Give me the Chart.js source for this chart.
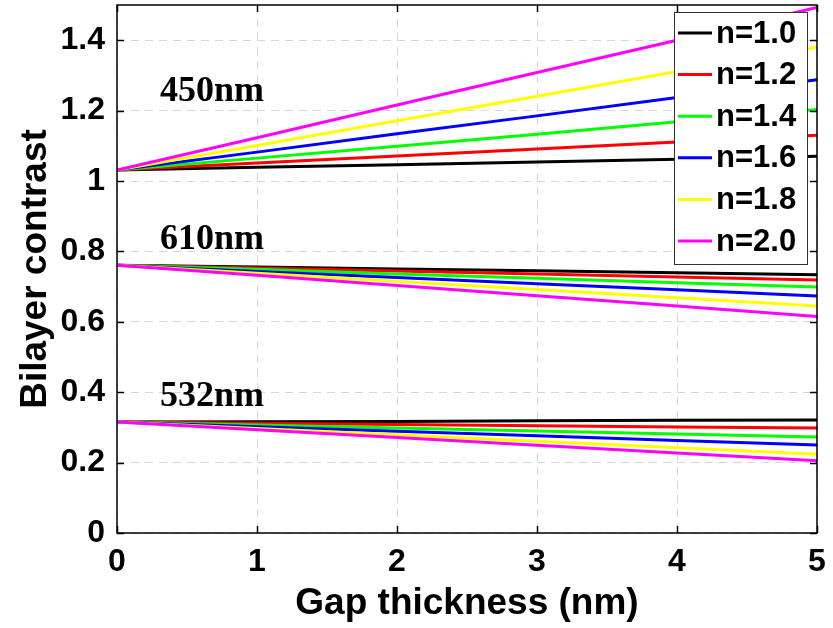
<!DOCTYPE html>
<html lang="en">
<head>
<meta charset="UTF-8">
<title>Bilayer contrast vs gap thickness</title>
<script src="https://cdn.jsdelivr.net/npm/chart.js@4"></script>
<style>
  * { margin: 0; padding: 0; box-sizing: border-box; }
  body { background: #fff; width: 833px; height: 628px; overflow: hidden; }
  #wrap { position: relative; width: 833px; height: 628px; }
</style>
</head>
<body>
<div id="wrap"><canvas id="chart" width="833" height="628"></canvas></div>
<script>
// gap thickness (nm), x values for every curve
const gap = [0, 1, 2, 3, 4, 5];

const nLabels = ['n=1.0', 'n=1.2', 'n=1.4', 'n=1.6', 'n=1.8', 'n=2.0'];
const nColors = ['#000000', '#ff0000', '#00ff00', '#0000ff', '#ffff00', '#ff00ff'];

// 450nm curves, one per n
const c450_10 = [1.031, 1.039, 1.046, 1.054, 1.062, 1.070];
const c450_12 = [1.031, 1.051, 1.071, 1.091, 1.111, 1.130];
const c450_14 = [1.031, 1.065, 1.099, 1.133, 1.168, 1.203];
const c450_16 = [1.031, 1.082, 1.134, 1.185, 1.237, 1.288];
const c450_18 = [1.031, 1.101, 1.171, 1.241, 1.311, 1.381];
const c450_20 = [1.031, 1.123, 1.216, 1.308, 1.400, 1.493];

// 610nm curves
const c610_10 = [0.761, 0.756, 0.750, 0.745, 0.739, 0.734];
const c610_12 = [0.761, 0.753, 0.744, 0.736, 0.727, 0.719];
const c610_14 = [0.761, 0.749, 0.736, 0.724, 0.711, 0.699];
const c610_16 = [0.761, 0.743, 0.726, 0.708, 0.691, 0.673];
const c610_18 = [0.761, 0.738, 0.715, 0.692, 0.668, 0.645];
const c610_20 = [0.761, 0.732, 0.703, 0.674, 0.645, 0.615];

// 532nm curves
const c532_10 = [0.315, 0.316, 0.317, 0.319, 0.320, 0.321];
const c532_12 = [0.315, 0.312, 0.308, 0.305, 0.301, 0.298];
const c532_14 = [0.315, 0.307, 0.298, 0.290, 0.281, 0.273];
const c532_16 = [0.315, 0.302, 0.289, 0.276, 0.263, 0.250];
const c532_18 = [0.315, 0.297, 0.279, 0.261, 0.242, 0.224];
const c532_20 = [0.315, 0.293, 0.271, 0.249, 0.227, 0.205];

const yTicks = [0, 0.2, 0.4, 0.6, 0.8, 1, 1.2, 1.4];
const xTicks = [0, 1, 2, 3, 4, 5];

const waveLabels = ['450nm', '610nm', '532nm'];
const waveLabelY = [1.254, 0.832, 0.386];

const groups = [
  [c450_10, c450_12, c450_14, c450_16, c450_18, c450_20],
  [c610_10, c610_12, c610_14, c610_16, c610_18, c610_20],
  [c532_10, c532_12, c532_14, c532_16, c532_18, c532_20],
];

const datasets = [];
groups.forEach((g, gi) => {
  g.forEach((vals, i) => {
    datasets.push({
      label: waveLabels[gi] + ' ' + nLabels[i],
      data: vals.map((v, k) => ({ x: gap[k], y: v })),
      borderColor: nColors[i],
      borderWidth: 3,
      pointRadius: 0,
      tension: 0,
      fill: false,
      order: 5 - i, // n=2.0 ends up on top
    });
  });
});

const SANS = "'Liberation Sans', Arial, Helvetica, sans-serif";
const SERIF = "'Liberation Serif', 'Times New Roman', serif";

// no extra room for half tick labels at the ends
function fixPad(s) {
  s.paddingTop = 0; s.paddingBottom = 0;
  s.paddingLeft = 0; s.paddingRight = 0;
}

// frame, inner ticks, wavelength labels and the legend box
const decorations = {
  id: 'decorations',
  afterDatasetsDraw(chart) {
    const { ctx, chartArea: a, scales } = chart;
    const xs = scales.x, ys = scales.y;
    ctx.save();

    // inner tick marks (MATLAB style)
    ctx.strokeStyle = '#000';
    ctx.lineWidth = 1.5;
    ctx.beginPath();
    yTicks.forEach(v => {
      const py = Math.round(ys.getPixelForValue(v)) + 0.5;
      ctx.moveTo(a.left, py); ctx.lineTo(a.left + 7, py);
      ctx.moveTo(a.right, py); ctx.lineTo(a.right - 7, py);
    });
    xTicks.forEach(v => {
      const px = Math.round(xs.getPixelForValue(v)) + 0.5;
      ctx.moveTo(px, a.bottom); ctx.lineTo(px, a.bottom - 7);
      ctx.moveTo(px, a.top); ctx.lineTo(px, a.top + 7);
    });
    ctx.stroke();

    // frame
    ctx.lineWidth = 1.5;
    ctx.strokeRect(a.left, a.top, a.right - a.left, a.bottom - a.top);

    // wavelength labels
    ctx.fillStyle = '#000';
    ctx.font = 'bold 36px ' + SERIF;
    ctx.textAlign = 'left';
    ctx.textBaseline = 'middle';
    waveLabels.forEach((t, i) => {
      ctx.fillText(t, a.left + 43, ys.getPixelForValue(waveLabelY[i]));
    });

    // legend
    const bx = a.right - 143, by = a.top + 7, bw = 133, bh = 252;
    ctx.fillStyle = '#fff';
    ctx.fillRect(bx, by, bw, bh);
    ctx.strokeStyle = '#333';
    ctx.lineWidth = 1;
    ctx.strokeRect(bx + 0.5, by + 0.5, bw, bh);
    ctx.font = 'bold 31px ' + SANS;
    nLabels.forEach((t, i) => {
      const ly = by + 21 + i * 41.6;
      ctx.strokeStyle = nColors[i];
      ctx.lineWidth = 3;
      ctx.beginPath();
      ctx.moveTo(bx + 4, ly); ctx.lineTo(bx + 38, ly);
      ctx.stroke();
      ctx.fillStyle = '#000';
      ctx.fillText(t, bx + 42, ly + 1);
    });

    ctx.restore();
  }
};

new Chart(document.getElementById('chart'), {
  type: 'line',
  data: { datasets },
  options: {
    responsive: false,
    animation: false,
    layout: { padding: { left: 0, top: 5, right: 16, bottom: 0 } },
    plugins: { legend: { display: false }, tooltip: { enabled: false } },
    scales: {
      x: {
        type: 'linear',
        min: 0, max: 5,
        afterFit: s => { s.height = 95; fixPad(s); },
        afterBuildTicks: s => { s.ticks = xTicks.map(v => ({ value: v })); },
        grid: { color: '#d6d6d6', lineWidth: 1, drawTicks: false },
        border: { display: false, dash: [8, 6] },
        ticks: { color: '#000', padding: 10, font: { family: SANS, size: 32, weight: 'bold' } },
        title: {
          display: true, text: 'Gap thickness (nm)', color: '#000',
          padding: { top: 0, bottom: 2 },
          font: { family: SANS, size: 37, weight: 'bold' }
        }
      },
      y: {
        min: 0, max: 1.5,
        afterFit: s => { s.width = 117; fixPad(s); },
        afterBuildTicks: s => { s.ticks = yTicks.map(v => ({ value: v })); },
        grid: { color: '#d6d6d6', lineWidth: 1, drawTicks: false },
        border: { display: false, dash: [8, 6] },
        ticks: {
          color: '#000', padding: 12,
          font: { family: SANS, size: 32, weight: 'bold' },
          callback: v => String(Number(v.toFixed(1)))
        },
        title: {
          display: true, text: 'Bilayer contrast', color: '#000',
          padding: { top: 14, bottom: 0 },
          font: { family: SANS, size: 37, weight: 'bold' }
        }
      }
    }
  },
  plugins: [decorations]
});
</script>
</body>
</html>
